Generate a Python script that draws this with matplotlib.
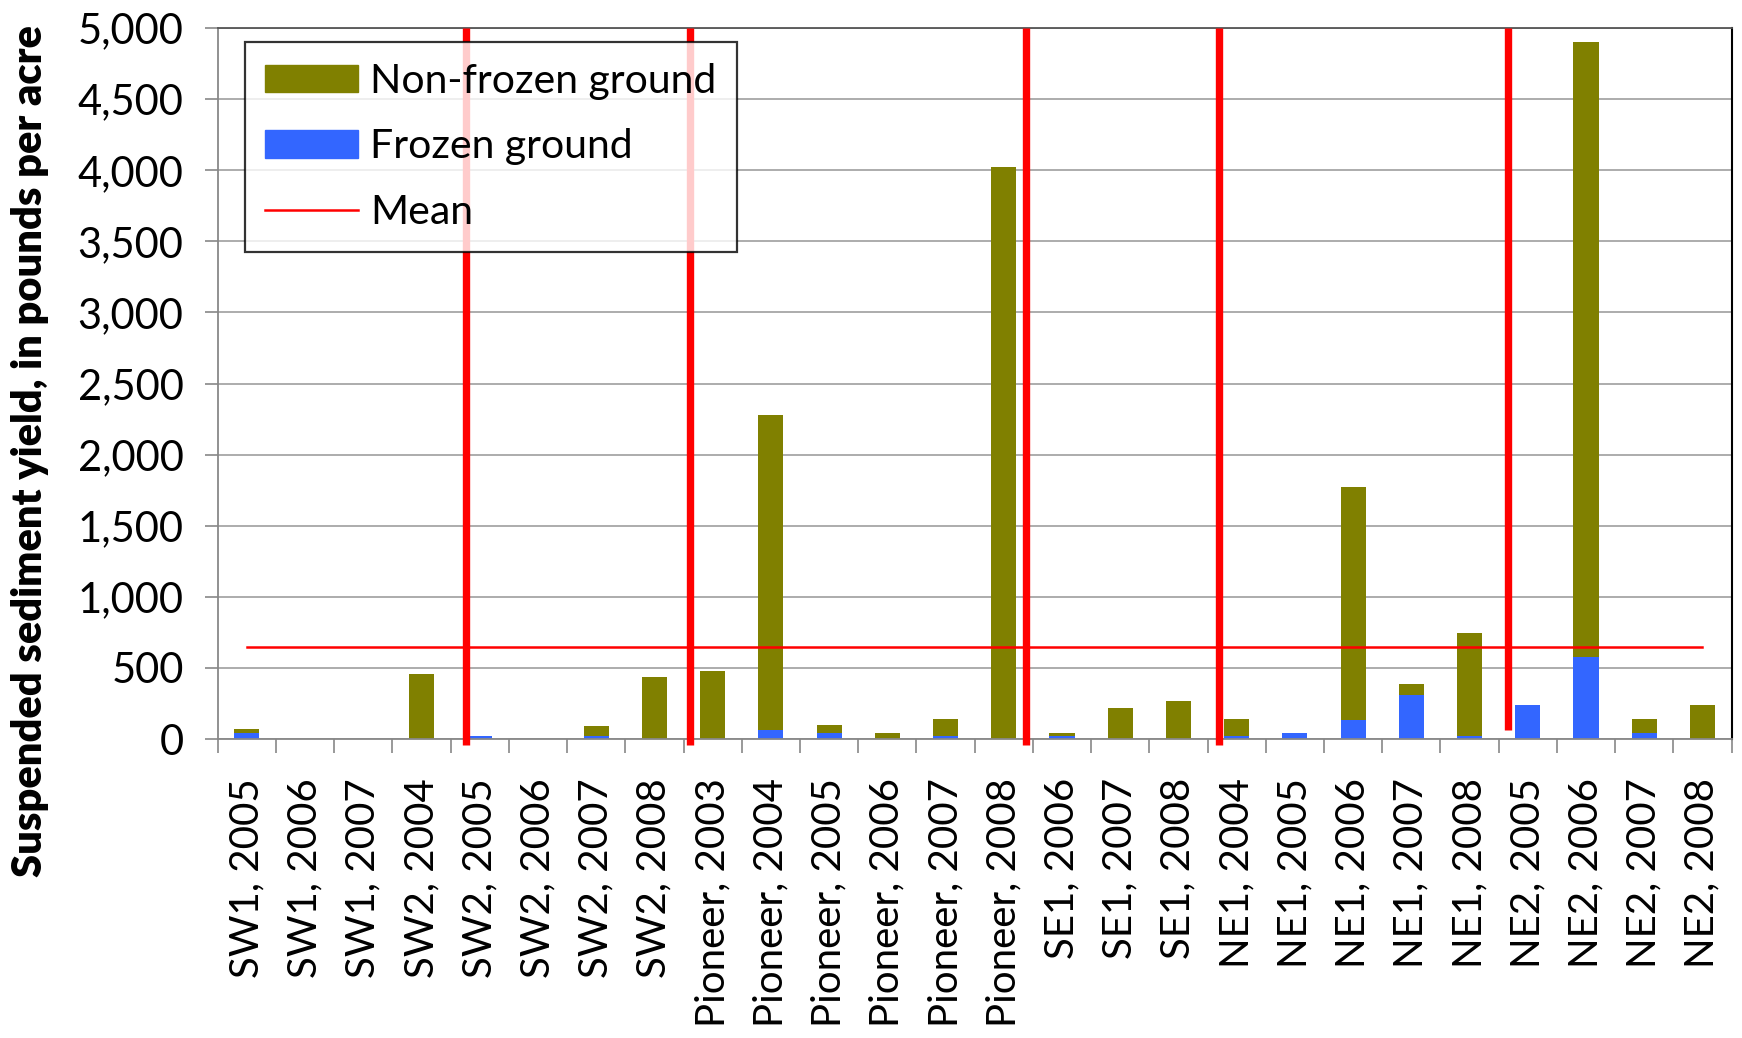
import numpy as np
import matplotlib
matplotlib.use("Agg")
import matplotlib.pyplot as plt
from matplotlib.ticker import FuncFormatter, FixedLocator
from matplotlib.patches import Patch
from matplotlib.lines import Line2D

sites = ["SW1, 2005", "SW1, 2006", "SW1, 2007", "SW2, 2004", "SW2, 2005", "SW2, 2006",
         "SW2, 2007", "SW2, 2008", "Pioneer, 2003", "Pioneer, 2004", "Pioneer, 2005",
         "Pioneer, 2006", "Pioneer, 2007", "Pioneer, 2008", "SE1, 2006", "SE1, 2007",
         "SE1, 2008", "NE1, 2004", "NE1, 2005", "NE1, 2006", "NE1, 2007", "NE1, 2008",
         "NE2, 2005", "NE2, 2006", "NE2, 2007", "NE2, 2008"]
frozen = [44, 0, 0, 0, 23, 0, 18, 0, 0, 65, 44, 0, 18, 0, 18, 0, 0, 18, 44, 134, 310, 18,
          238, 574, 44, 0]
non_frozen = [28, 0, 0, 454, 0, 0, 75, 433, 481, 2213, 56, 44, 123, 4023, 26, 218, 266, 123,
              0, 1637, 74, 727, 0, 4326, 97, 238]
mean_yield = 645

# red separators drawn between site groups
group_breaks = [3.76, 7.61, 13.39, 16.69, 21.66]
break_bottoms = [-42, -42, -42, -42, 63]

plt.rcParams['font.family'] = ['Lato', 'DejaVu Sans']

OLIVE = "#808000"
BLUE = "#3366FF"
RED = "#FF0000"
GRID = "#A6A6A6"

fig = plt.figure(figsize=(17.42, 10.38), dpi=100)
ax = fig.add_axes([0.125, 0.288, 0.869, 0.685])

x = np.arange(len(sites))
ax.bar(x, frozen, width=0.43, color=BLUE, zorder=2)
ax.bar(x, non_frozen, width=0.43, bottom=frozen, color=OLIVE, zorder=2)
ax.plot([x[0], x[-1]], [mean_yield, mean_yield], color=RED, lw=1.8, zorder=3)

for bx, by in zip(group_breaks, break_bottoms):
    ax.plot([bx, bx], [by, 5000], color=RED, lw=5.3, solid_capstyle="butt",
            clip_on=False, zorder=4)

ax.set_xlim(-0.5, len(sites) - 0.5)
ax.set_ylim(0, 5000)
ax.set_yticks(np.arange(0, 5001, 500))
ax.yaxis.set_major_formatter(FuncFormatter(lambda v, p: f"{int(v):,}"))
ax.grid(axis="y", color=GRID, lw=1.3, zorder=0)
ax.set_axisbelow(True)

ax.set_xticks(x)
ax.set_xticklabels(sites, rotation=90, fontsize=29)
ax.xaxis.set_minor_locator(FixedLocator(np.arange(-0.5, len(sites), 1)))
ax.tick_params(axis="x", which="major", length=0, pad=28)
ax.tick_params(axis="x", which="minor", length=10, width=1.2, color="#888888")
ax.tick_params(axis="y", length=9.6, width=1.2, color="#888888", pad=15, labelsize=30)

for side in ["left", "bottom"]:
    ax.spines[side].set_color("#888888")
    ax.spines[side].set_linewidth(1.3)
ax.spines["top"].set_color("#555555")
ax.spines["top"].set_linewidth(1.3)
ax.spines["right"].set_color("black")
ax.spines["right"].set_linewidth(1.5)

fig.text(0.017, 0.155, "Suspended sediment yield, in pounds per acre", rotation=90,
         ha="center", va="bottom", fontsize=30, fontweight="heavy")

handles = [Patch(color=OLIVE), Patch(color=BLUE), Line2D([], [], color=RED, lw=1.8)]
leg = ax.legend(handles, ["Non-frozen ground", "Frozen ground", "Mean"],
                loc="upper left", bbox_to_anchor=(0.018, 0.98), fontsize=29.5,
                frameon=True, fancybox=False, borderaxespad=0, handlelength=2.26,
                handleheight=0.66, handletextpad=0.29, labelspacing=0.7, borderpad=0.5)
leg.get_frame().set_edgecolor("black")
leg.get_frame().set_linewidth(1.6)
leg.set_zorder(10)

fig.savefig("out.png", dpi=100)
